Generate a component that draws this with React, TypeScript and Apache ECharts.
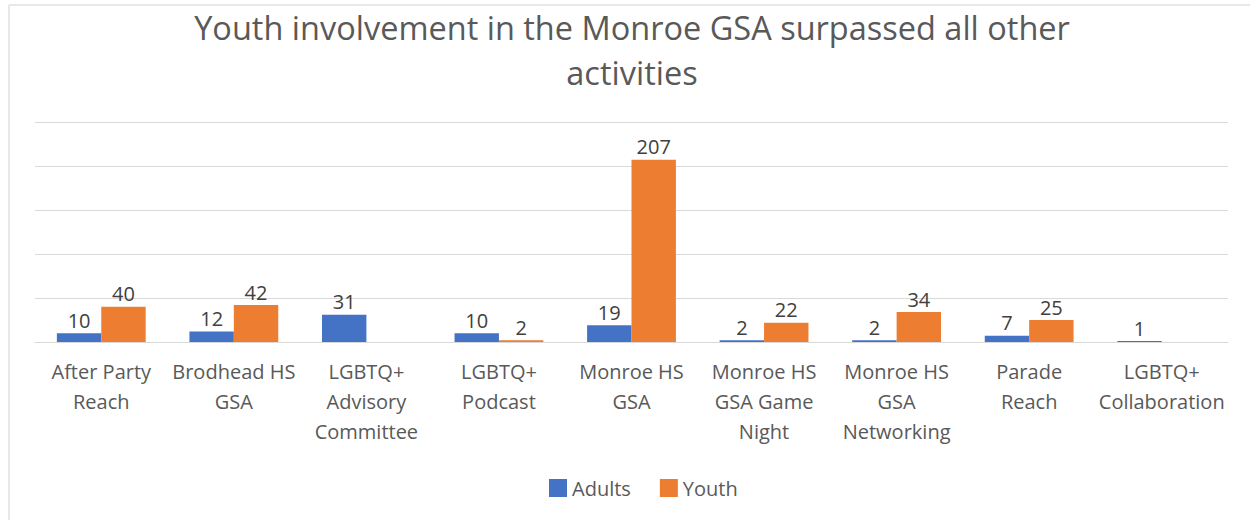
import React, { useEffect, useRef } from "react";
import * as echarts from "echarts";

const titleText = "Youth involvement in the Monroe GSA surpassed all other\nactivities";
const categories = [
  "After Party\nReach",
  "Brodhead HS\nGSA",
  "LGBTQ+\nAdvisory\nCommittee",
  "LGBTQ+\nPodcast",
  "Monroe HS\nGSA",
  "Monroe HS\nGSA Game\nNight",
  "Monroe HS\nGSA\nNetworking",
  "Parade\nReach",
  "LGBTQ+\nCollaboration",
];
const adults: (number | null)[] = [10, 12, 31, 10, 19, 2, 2, 7, 1];
const youth: (number | null)[] = [40, 42, null, 2, 207, 22, 34, 25, null];

const FONT = "'Open Sans', sans-serif";

export default function App() {
  const ref = useRef<HTMLDivElement>(null);
  useEffect(() => {
    if (!ref.current) return;
    const chart = echarts.init(ref.current, undefined, { renderer: "svg" });
    const labelStyle = {
      show: true,
      position: "top" as const,
      distance: 3,
      color: "#404040",
      fontSize: 20,
      fontFamily: FONT,
    };
    chart.setOption({
      animation: false,
      backgroundColor: "#ffffff",
      textStyle: { fontFamily: FONT },
      title: {
        text: titleText,
        left: 627,
        top: 0,
        textAlign: "center",
        textStyle: {
          fontSize: 32.5,
          lineHeight: 45,
          fontWeight: "normal",
          color: "#595959",
          fontFamily: FONT,
        },
      },
      graphic: [
        { type: "line", shape: { x1: 9, y1: 5, x2: 1250, y2: 5 }, style: { stroke: "#e8e8e8", lineWidth: 2 } },
        { type: "line", shape: { x1: 9, y1: 5, x2: 9, y2: 520 }, style: { stroke: "#e8e8e8", lineWidth: 2 } },
      ],
      legend: {
        data: ["Adults", "Youth"],
        left: 544,
        top: 473,
        itemWidth: 18,
        itemHeight: 18,
        itemGap: 29,
        icon: "rect",
        textStyle: { fontSize: 20, color: "#595959", fontFamily: FONT },
      },
      grid: { left: 35, right: 22, top: 122, bottom: 178, containLabel: false },
      xAxis: {
        type: "category",
        data: categories,
        axisTick: { show: false },
        axisLine: { lineStyle: { color: "#d9d9d9", width: 1 } },
        axisLabel: {
          interval: 0,
          margin: 14,
          fontSize: 20,
          lineHeight: 30,
          color: "#595959",
          fontFamily: FONT,
        },
      },
      yAxis: {
        type: "value",
        min: 0,
        max: 250,
        interval: 50,
        axisLabel: { show: false },
        axisLine: { show: false },
        axisTick: { show: false },
        splitLine: { lineStyle: { color: "#d9d9d9", width: 1 } },
      },
      series: [
        {
          name: "Adults",
          type: "bar",
          data: adults,
          barGap: "0%",
          barCategoryGap: "33%",
          itemStyle: { color: "#4472C4" },
          label: labelStyle,
        },
        {
          name: "Youth",
          type: "bar",
          data: youth,
          barGap: "0%",
          barCategoryGap: "33%",
          itemStyle: { color: "#ED7D31" },
          label: labelStyle,
        },
      ],
    });
    return () => chart.dispose();
  }, []);
  return (
    <div
      ref={ref}
      style={{ position: "fixed", left: 0, top: 0, width: 1250, height: 520 }}
    />
  );
}
